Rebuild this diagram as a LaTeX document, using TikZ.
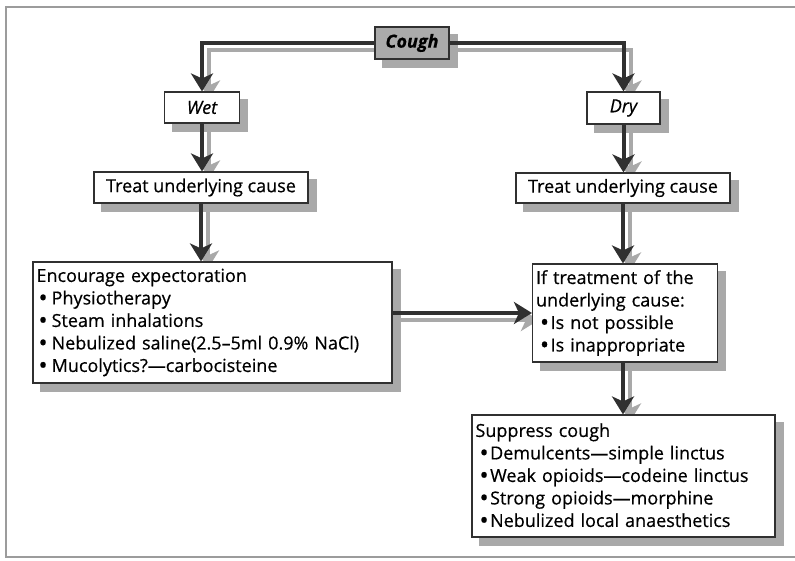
\documentclass[tikz,border=0pt]{standalone}
\usepackage{fontspec}
\setmainfont[FakeBold=0.5]{Open Sans}
\usetikzlibrary{arrows.meta,backgrounds}

\definecolor{ink}{HTML}{303030}
\definecolor{shade}{HTML}{A9A9A9}
\definecolor{coughfill}{HTML}{ABABAB}
\definecolor{framegray}{HTML}{9C9C9C}

% list bullet
\newcommand{\blt}{\raisebox{-0.1em}{\scalebox{1.35}{•}}}

\tikzset{
  box/.style={draw=ink, line width=1.1pt, fill=white, inner xsep=3.5pt, inner ysep=2pt,
    font=\fontsize{18}{22.5}\selectfont,
    preaction={fill=shade, draw=shade, transform canvas={shift={(8pt,-8pt)}}}},
  listbox/.style={box, align=left, text width=#1},
  tip/.style={-{Stealth[length=18pt,width=22pt,inset=5pt]}},
  conn/.style={draw=ink, line width=4pt, tip},
  connshade/.style={draw=shade, line width=4pt, tip,
    transform canvas={shift={(7pt,-7pt)}}}
}

\begin{document}
\begin{tikzpicture}[x=1pt,y=-1pt]
\useasboundingbox (0,0) rectangle (795,560);

% boxes
\node[box, fill=coughfill, minimum width=74pt, minimum height=32pt,
      font=\fontsize{18}{20}\selectfont\bfseries\itshape] (cough) at (412,43) {Cough};
\node[box, minimum width=75pt, minimum height=31pt, font=\fontsize{18}{20}\selectfont\itshape]
  (wet) at (202,107.5) {Wet};
\node[box, minimum width=73pt, minimum height=32pt, font=\fontsize{18}{20}\selectfont\itshape]
  (dry) at (623.5,108) {Dry};
\node[box, minimum width=214pt, minimum height=31pt] (treatL) at (201,187.5) {Treat underlying cause};
\node[box, minimum width=214pt, minimum height=30pt] (treatR) at (623,188) {Treat underlying cause};
\node[listbox=352pt, minimum height=121pt] (enc) at (212.5,322.5) {%
  Encourage expectoration\\
  \hspace*{2pt}\blt\hspace{4pt}Physiotherapy\\
  \hspace*{2pt}\blt\hspace{4pt}Steam inhalations\\
  \hspace*{2pt}\blt\hspace{4pt}Nebulized saline(2.5–5ml 0.9\% NaCl)\\
  \hspace*{2pt}\blt\hspace{4pt}Mucolytics?—carbocisteine};
\node[listbox=178pt, minimum height=98pt] (ifb) at (625,313) {%
  If treatment of the\\
  underlying cause:\\
  \hspace*{4pt}\blt\hspace{1.5pt}Is not possible\\
  \hspace*{4pt}\blt\hspace{1.5pt}Is inappropriate};
\node[listbox=296pt, minimum height=122pt] (sup) at (623.5,476) {%
  Suppress cough\\
  \hspace*{4pt}\blt\hspace{1.5pt}Demulcents—simple linctus\\
  \hspace*{4pt}\blt\hspace{1.5pt}Weak opioids—codeine linctus\\
  \hspace*{4pt}\blt\hspace{1.5pt}Strong opioids—morphine\\
  \hspace*{4pt}\blt\hspace{1.5pt}Nebulized local anaesthetics};

% page frame and connector shadows
\begin{scope}[on background layer]
  \fill[white] (0,0) rectangle (795,560);
  \draw[framegray, line width=2pt] (810,7) -- (5.5,7) -- (5.5,557) -- (810,557);
  \draw[connshade] (cough) -| (wet);
  \draw[connshade] (cough) -| (dry);
  \draw[connshade] (wet) -- (wet |- treatL.north);
  \draw[connshade] (dry) -- (dry |- treatR.north);
  \draw[connshade] (treatL.south) -- (treatL.south |- enc.north);
  \draw[connshade] (treatR.south) -- (treatR.south |- ifb.north);
  \draw[connshade] (enc.east |- ifb.west) -- (ifb.west);
  \draw[connshade] (ifb.south -| treatR.south) -- (treatR.south |- sup.north);
\end{scope}

% connectors
\draw[conn] (cough) -| (wet);
\draw[conn] (cough) -| (dry);
\draw[conn] (wet) -- (wet |- treatL.north);
\draw[conn] (dry) -- (dry |- treatR.north);
\draw[conn] (treatL.south) -- (treatL.south |- enc.north);
\draw[conn] (treatR.south) -- (treatR.south |- ifb.north);
\draw[conn] (enc.east |- ifb.west) -- (ifb.west);
\draw[conn] (ifb.south -| treatR.south) -- (treatR.south |- sup.north);
\end{tikzpicture}
\end{document}
